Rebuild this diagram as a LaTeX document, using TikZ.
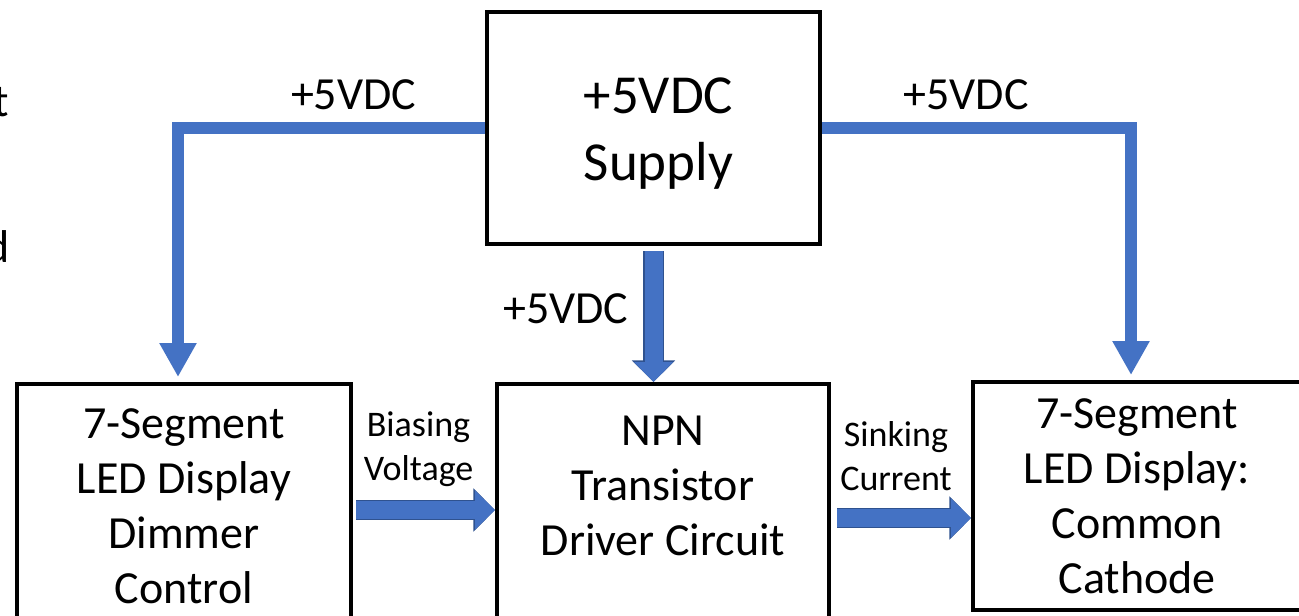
\documentclass[tikz,border=0pt]{standalone}
\usepackage{fontspec}
\setmainfont{Carlito}
\usetikzlibrary{arrows.meta,positioning,calc}
\definecolor{wireblue}{HTML}{4472C4}
\definecolor{wireedge}{HTML}{2F528F}

\begin{document}
\begin{tikzpicture}[
  x=0.5pt, y=-0.5pt,
  font=\fontsize{23}{27.5}\selectfont,
  blk/.style={draw=black, line width=2pt, align=center, inner sep=0pt},
  tx/.style={align=center, inner sep=0pt},
  feed/.style={draw=wireblue, line width=6pt, -{Triangle[length=17pt,width=17.5pt]}},
  bar/.style={draw=wireblue, line width=9pt, -{Triangle[length=10pt,width=19pt]},
    preaction={draw=wireedge, line width=10.2pt, -{Triangle[length=10.8pt,width=21pt]}}},
  vl/.style={font=\fontsize{23}{27.5}\selectfont, inner sep=0pt},
  sl/.style={font=\fontsize{18}{22}\selectfont, align=center, inner sep=0pt}
]
\path[use as bounding box, fill=white] (0,0) rectangle (1299,615);

\node[blk, minimum width=166.5pt, minimum height=116pt] (sup) at (653.5,128) {};
\node[tx, font=\fontsize{27.5}{33.5}\selectfont] (suptx) at ([xshift=2.5pt,yshift=-3pt]sup.center)
  {+5VDC\\Supply};
\node[blk, minimum width=167pt, minimum height=122pt] (dim) at (184,506)
  {7-Segment\\LED Display\\Dimmer\\Control};
\node[blk, minimum width=166pt, minimum height=130pt] (npn) at (663,514) {};
\node[tx, below=17pt of npn.north] (npntx) {NPN\\Transistor\\Driver Circuit};
\node[blk, minimum width=164pt, minimum height=114pt] (cat) at (1137,496)
  {7-Segment\\LED Display:\\Common\\Cathode};

% cut-off text at the left edge
\node[anchor=base east, inner sep=0pt] (frt) at (9,117) {t};
\node[anchor=base east, inner sep=0pt] (frd) at (10,262) {d};

\draw[feed] (sup.west) -| ([xshift=-3pt,yshift=2.5pt]dim.north)
  node[vl, pos=0.214, above=6pt] {+5VDC};
\draw[feed] (sup.east) -| ([xshift=-3pt,yshift=2.5pt]cat.north)
  node[vl, pos=0.233, above=6pt] {+5VDC};
\draw[bar] ([yshift=-2.5pt]sup.south) -- (sup.south |- npn.north)
  node[vl, pos=0.44, left=8pt] {+5VDC};

\draw[bar] ([xshift=1.5pt,yshift=-2pt]dim.east) coordinate (b0) -- (b0 -| npn.west)
  node[sl, pos=0.45, above=7pt] {Biasing\\Voltage};
\draw[bar] ([xshift=3pt,yshift=-2pt]npn.east) coordinate (s0) -- (s0 -| cat.west)
  node[sl, pos=0.44, above=9pt] {Sinking\\Current};
\end{tikzpicture}
\end{document}
